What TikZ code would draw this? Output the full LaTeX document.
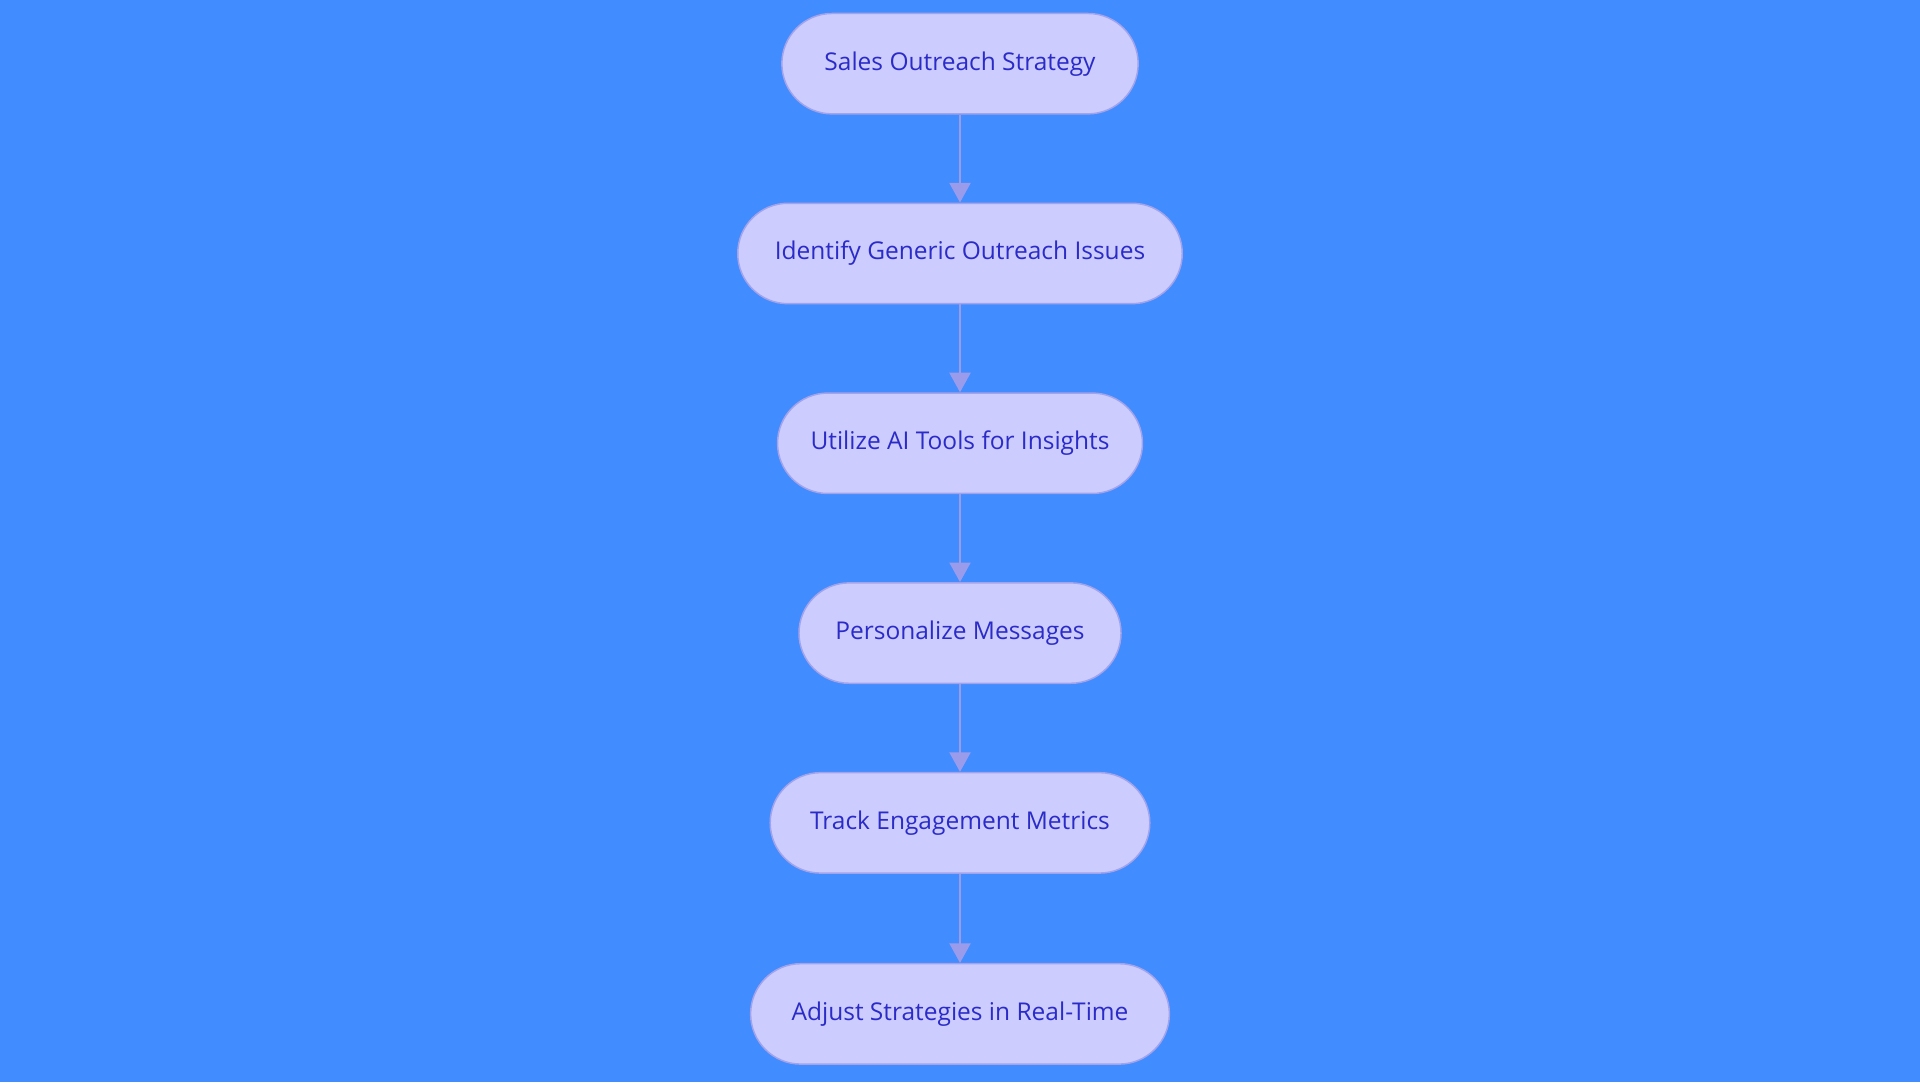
\documentclass[tikz,border=0pt]{standalone}
\usepackage{fontspec}
\setmainfont{Open Sans}
\usetikzlibrary{arrows.meta}
\definecolor{bg}{HTML}{418CFF}
\definecolor{nfill}{HTML}{CCCCFF}
\definecolor{nline}{HTML}{A3A3EB}
\definecolor{ntext}{HTML}{2B2BC8}
\definecolor{arr}{HTML}{9B9BEB}
\begin{document}
\begin{tikzpicture}[x=0.5pt,y=-0.5pt,
  box/.style={draw=nline,line width=0.6pt,fill=nfill,rounded corners=20.5pt,minimum height=41pt,text=ntext,font=\fontsize{10}{12}\selectfont,inner sep=0pt},
  conn/.style={draw=arr,line width=1.1pt,-{Triangle[length=8pt,width=8.5pt]}}]
\fill[bg] (0,0) rectangle (1568,884);
\useasboundingbox (0,0) rectangle (1568,884);
\node[box,minimum width=145.5pt] (a) at (784,52) {Sales Outreach Strategy};
\node[box,minimum width=181.5pt] (b) at (784,207) {Identify Generic Outreach Issues};
\node[box,minimum width=149pt] (c) at (784,362) {Utilize AI Tools for Insights};
\node[box,minimum width=131.5pt] (d) at (784,517) {Personalize Messages};
\node[box,minimum width=155pt] (e) at (784,672) {Track Engagement Metrics};
\node[box,minimum width=171pt] (f) at (784,828) {Adjust Strategies in Real-Time};
\draw[conn] (a) -- (b);
\draw[conn] (b) -- (c);
\draw[conn] (c) -- (d);
\draw[conn] (d) -- (e);
\draw[conn] (e) -- (f);
\end{tikzpicture}
\end{document}
